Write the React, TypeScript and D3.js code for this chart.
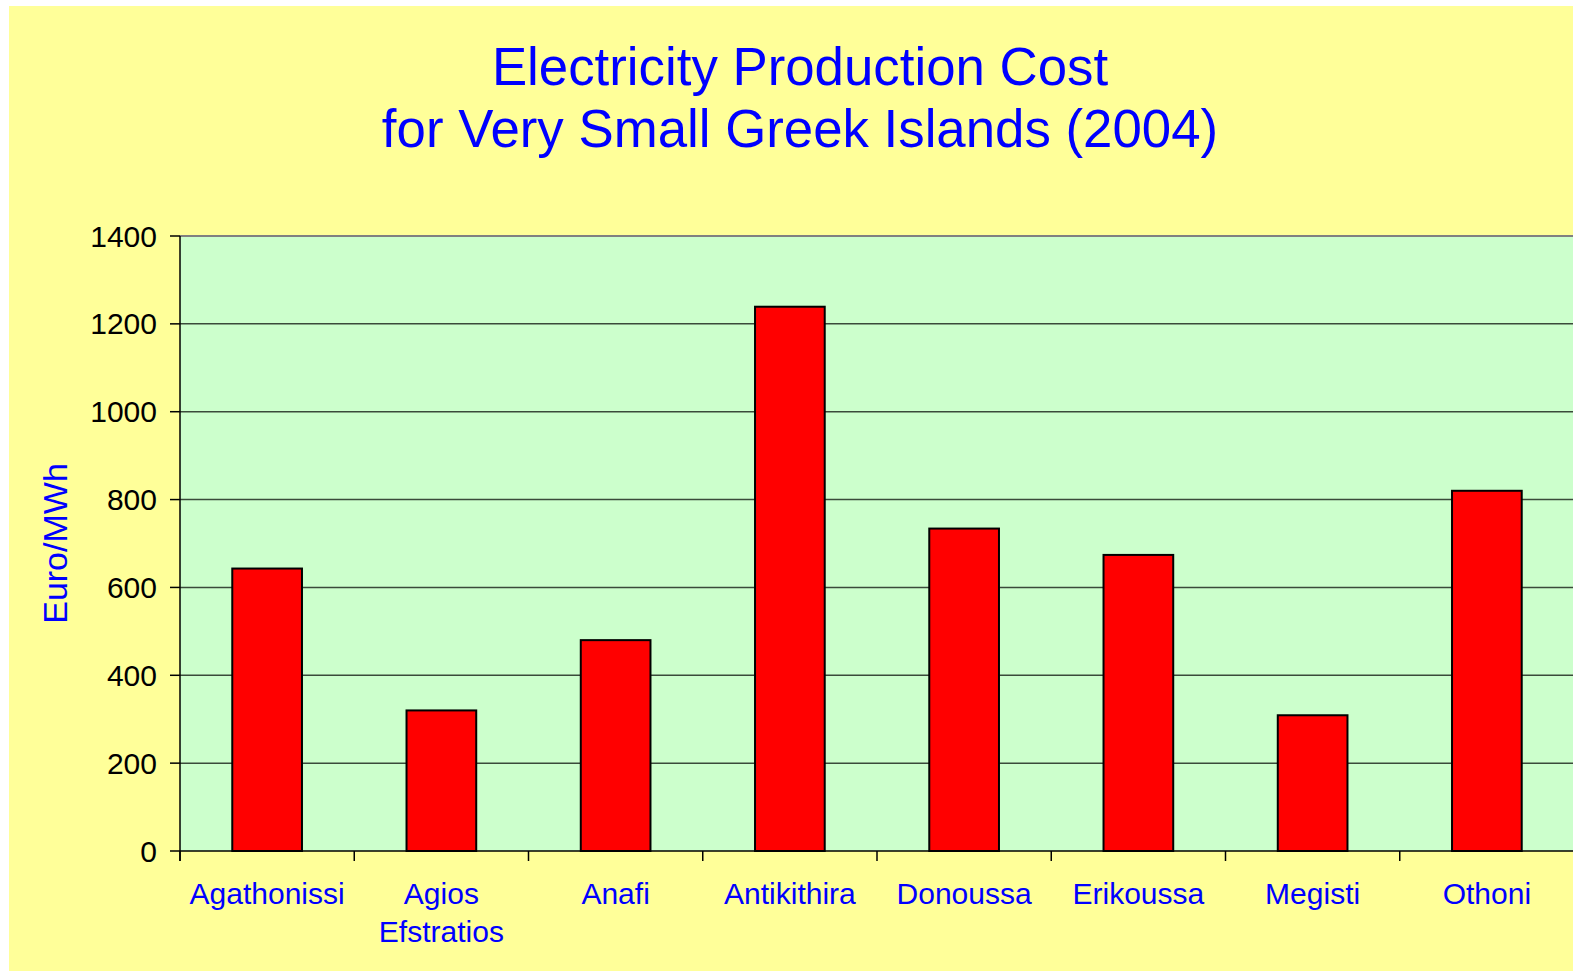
import React from "react";
import * as d3 from "d3";

const categories: string[][] = [
  ["Agathonissi"],
  ["Agios", "Efstratios"],
  ["Anafi"],
  ["Antikithira"],
  ["Donoussa"],
  ["Erikoussa"],
  ["Megisti"],
  ["Othoni"],
];
const values: number[] = [643, 320, 480, 1239, 734, 674, 309, 820];
const yTicks: number[] = [0, 200, 400, 600, 800, 1000, 1200, 1400];
const titleLines: string[] = ["Electricity Production Cost", "for Very Small Greek Islands (2004)"];
const yTitle = "Euro/MWh";

const W = 1573;
const H = 973;
const plot = { left: 180, right: 1574, top: 236, bottom: 851 };
const FONT = "'Liberation Sans', Arial, Helvetica, sans-serif";

export default function App() {
  const keys = categories.map((c) => c.join(" "));
  const x = d3.scaleBand<string>().domain(keys).range([plot.left, plot.right]).padding(0);
  const y = d3.scaleLinear().domain([0, 1400]).range([plot.bottom, plot.top]);
  const bw = x.bandwidth();
  const barW = bw * 0.4;

  return (
    <svg
      width={W}
      height={H}
      style={{ position: "absolute", left: 0, top: 0, display: "block" }}
      fontFamily={FONT}
    >
      <rect x={0} y={0} width={W} height={H} fill="#ffffff" />
      <rect x={9} y={6} width={W - 9} height={965} fill="#FFFF99" />
      {titleLines.map((t, i) => (
        <text key={t} x={800} y={85 + i * 62} textAnchor="middle" fontSize={52.8} fill="#0000FF">
          {t}
        </text>
      ))}
      <rect
        x={plot.left}
        y={plot.top}
        width={plot.right - plot.left}
        height={plot.bottom - plot.top}
        fill="#CCFFCC"
      />
      {yTicks.map((t) => (
        <g key={t}>
          {t > 0 && (
            <line
              x1={plot.left}
              x2={plot.right}
              y1={y(t)}
              y2={y(t)}
              stroke={t === 1400 ? "#808080" : "#3a4a3a"}
              strokeWidth={t === 1400 ? 2 : 1.5}
            />
          )}
          <line x1={170} x2={plot.left} y1={y(t)} y2={y(t)} stroke="#000" strokeWidth={1.5} />
          <text x={157} y={y(t) + 10.5} textAnchor="end" fontSize={30} fill="#000">
            {t}
          </text>
        </g>
      ))}
      {values.map((v, i) => {
        const cx = (x(keys[i]) as number) + bw / 2;
        return (
          <rect
            key={keys[i]}
            x={cx - barW / 2}
            y={y(v)}
            width={barW}
            height={y(0) - y(v)}
            fill="#FF0000"
            stroke="#000"
            strokeWidth={2}
          />
        );
      })}
      <line x1={plot.left} x2={plot.left} y1={plot.top} y2={plot.bottom + 10} stroke="#000" strokeWidth={1.5} />
      <line x1={plot.left} x2={plot.right} y1={plot.bottom} y2={plot.bottom} stroke="#000" strokeWidth={1.5} />
      {keys.map((k) => (
        <line
          key={"t" + k}
          x1={x(k) as number}
          x2={x(k) as number}
          y1={plot.bottom}
          y2={plot.bottom + 10}
          stroke="#000"
          strokeWidth={1.5}
        />
      ))}
      {categories.map((lines, i) => {
        const cx = (x(keys[i]) as number) + bw / 2;
        return (
          <text key={"l" + keys[i]} x={cx} textAnchor="middle" fontSize={30} fill="#0000FF">
            {lines.map((ln, j) => (
              <tspan key={ln} x={cx} y={903.5 + j * 38}>
                {ln}
              </tspan>
            ))}
          </text>
        );
      })}
      <text
        transform={`translate(67,543.5) rotate(-90)`}
        textAnchor="middle"
        fontSize={34}
        fill="#0000FF"
      >
        {yTitle}
      </text>
    </svg>
  );
}
